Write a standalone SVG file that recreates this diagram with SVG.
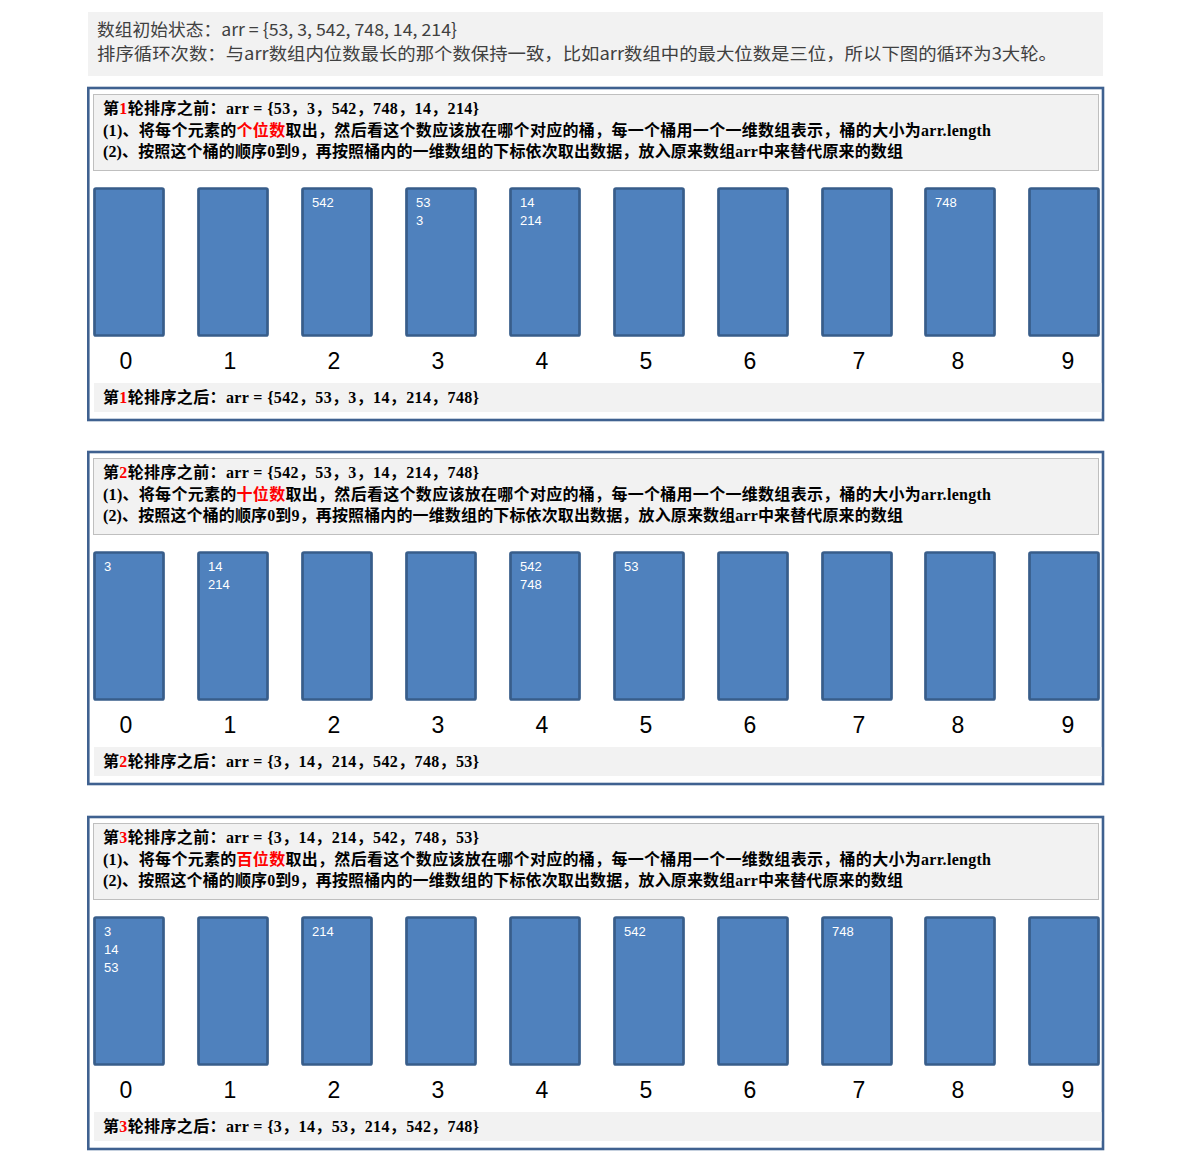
<svg xmlns="http://www.w3.org/2000/svg" width="1200" height="1161" viewBox="0 0 1200 1161">
<style>
.bg{fill:#ffffff}
.intro{fill:#f2f2f2}
.introT{font-family:"Noto Sans CJK SC","Noto Sans",sans-serif;font-size:17px;fill:#404040}
.panel{fill:none;stroke:#3f6190;stroke-width:2.6}
.hdr{fill:#f2f2f2;stroke:#bfbfbf;stroke-width:1}
.band{fill:#f2f2f2}
.ht{font-family:"Liberation Serif","Noto Sans CJK SC",serif;font-size:16px;font-weight:bold;fill:#000000}
.red{fill:#ff0000}
.bk{fill:#4f81bd;stroke:#385d8a;stroke-width:2.7}
.bv{font-family:"Liberation Sans","Noto Sans",sans-serif;font-size:13px;fill:#ffffff}
.lab{font-family:"Liberation Sans","Noto Sans",sans-serif;font-size:23px;fill:#000000;text-anchor:middle}
</style>
<defs>
<rect id="bucket" class="bk" x="0" y="0" width="69" height="147" rx="1.5"/>
</defs>
<rect class="bg" x="0" y="0" width="1200" height="1161"/>

<g id="intro">
<rect class="intro" x="88" y="12" width="1015" height="64"/>
<text class="introT" x="97" y="36" textLength="360" lengthAdjust="spacingAndGlyphs">数组初始状态：arr = {53, 3, 542, 748, 14, 214}</text>
<text class="introT" x="97" y="59.5" textLength="960" lengthAdjust="spacingAndGlyphs">排序循环次数：与arr数组内位数最长的那个数保持一致，比如arr数组中的最大位数是三位，所以下图的循环为3大轮。</text>
</g>

<!-- Round 1 -->
<g id="round1">
<rect class="panel" x="88.3" y="88" width="1014.7" height="332"/>
<g id="round1-header">
<rect class="hdr" x="93.5" y="94.5" width="1005" height="76"/>
<text class="ht" x="103" y="114" textLength="376" lengthAdjust="spacing">第<tspan class="red">1</tspan>轮排序之前：arr = {53，3，542，748，14，214}</text>
<text class="ht" x="103" y="135.5" textLength="888" lengthAdjust="spacing">(1)、将每个元素的<tspan class="red">个位数</tspan>取出，然后看这个数应该放在哪个对应的桶，每一个桶用一个一维数组表示，桶的大小为arr.length</text>
<text class="ht" x="103" y="156.5" textLength="800" lengthAdjust="spacing">(2)、按照这个桶的顺序0到9，再按照桶内的一维数组的下标依次取出数据，放入原来数组arr中来替代原来的数组</text>
</g>
<g id="r1-b0"><use href="#bucket" x="94.5" y="188.5"/><text class="lab" x="126" y="369">0</text></g>
<g id="r1-b1"><use href="#bucket" x="198.5" y="188.5"/><text class="lab" x="230" y="369">1</text></g>
<g id="r1-b2"><use href="#bucket" x="302.5" y="188.5"/><text class="bv" x="312" y="207">542</text><text class="lab" x="334" y="369">2</text></g>
<g id="r1-b3"><use href="#bucket" x="406.5" y="188.5"/><text class="bv" x="416" y="207">53</text><text class="bv" x="416" y="225">3</text><text class="lab" x="438" y="369">3</text></g>
<g id="r1-b4"><use href="#bucket" x="510.5" y="188.5"/><text class="bv" x="520" y="207">14</text><text class="bv" x="520" y="225">214</text><text class="lab" x="542" y="369">4</text></g>
<g id="r1-b5"><use href="#bucket" x="614.5" y="188.5"/><text class="lab" x="646" y="369">5</text></g>
<g id="r1-b6"><use href="#bucket" x="718.5" y="188.5"/><text class="lab" x="750" y="369">6</text></g>
<g id="r1-b7"><use href="#bucket" x="822.5" y="188.5"/><text class="lab" x="859" y="369">7</text></g>
<g id="r1-b8"><use href="#bucket" x="925.5" y="188.5"/><text class="bv" x="935" y="207">748</text><text class="lab" x="958" y="369">8</text></g>
<g id="r1-b9"><use href="#bucket" x="1029.5" y="188.5"/><text class="lab" x="1068" y="369">9</text></g>
<g id="round1-footer">
<rect class="band" x="94" y="383" width="1007.5" height="29"/>
<text class="ht" x="103" y="403" textLength="376" lengthAdjust="spacing">第<tspan class="red">1</tspan>轮排序之后：arr = {542，53，3，14，214，748}</text>
</g>
</g>

<!-- Round 2 -->
<g id="round2" transform="translate(0,364)">
<rect class="panel" x="88.3" y="88" width="1014.7" height="332"/>
<g id="round2-header">
<rect class="hdr" x="93.5" y="94.5" width="1005" height="76"/>
<text class="ht" x="103" y="114" textLength="376" lengthAdjust="spacing">第<tspan class="red">2</tspan>轮排序之前：arr = {542，53，3，14，214，748}</text>
<text class="ht" x="103" y="135.5" textLength="888" lengthAdjust="spacing">(1)、将每个元素的<tspan class="red">十位数</tspan>取出，然后看这个数应该放在哪个对应的桶，每一个桶用一个一维数组表示，桶的大小为arr.length</text>
<text class="ht" x="103" y="156.5" textLength="800" lengthAdjust="spacing">(2)、按照这个桶的顺序0到9，再按照桶内的一维数组的下标依次取出数据，放入原来数组arr中来替代原来的数组</text>
</g>
<g id="r2-b0"><use href="#bucket" x="94.5" y="188.5"/><text class="bv" x="104" y="207">3</text><text class="lab" x="126" y="369">0</text></g>
<g id="r2-b1"><use href="#bucket" x="198.5" y="188.5"/><text class="bv" x="208" y="207">14</text><text class="bv" x="208" y="225">214</text><text class="lab" x="230" y="369">1</text></g>
<g id="r2-b2"><use href="#bucket" x="302.5" y="188.5"/><text class="lab" x="334" y="369">2</text></g>
<g id="r2-b3"><use href="#bucket" x="406.5" y="188.5"/><text class="lab" x="438" y="369">3</text></g>
<g id="r2-b4"><use href="#bucket" x="510.5" y="188.5"/><text class="bv" x="520" y="207">542</text><text class="bv" x="520" y="225">748</text><text class="lab" x="542" y="369">4</text></g>
<g id="r2-b5"><use href="#bucket" x="614.5" y="188.5"/><text class="bv" x="624" y="207">53</text><text class="lab" x="646" y="369">5</text></g>
<g id="r2-b6"><use href="#bucket" x="718.5" y="188.5"/><text class="lab" x="750" y="369">6</text></g>
<g id="r2-b7"><use href="#bucket" x="822.5" y="188.5"/><text class="lab" x="859" y="369">7</text></g>
<g id="r2-b8"><use href="#bucket" x="925.5" y="188.5"/><text class="lab" x="958" y="369">8</text></g>
<g id="r2-b9"><use href="#bucket" x="1029.5" y="188.5"/><text class="lab" x="1068" y="369">9</text></g>
<g id="round2-footer">
<rect class="band" x="94" y="383" width="1007.5" height="29"/>
<text class="ht" x="103" y="403" textLength="376" lengthAdjust="spacing">第<tspan class="red">2</tspan>轮排序之后：arr = {3，14，214，542，748，53}</text>
</g>
</g>

<!-- Round 3 -->
<g id="round3" transform="translate(0,729)">
<rect class="panel" x="88.3" y="88" width="1014.7" height="332"/>
<g id="round3-header">
<rect class="hdr" x="93.5" y="94.5" width="1005" height="76"/>
<text class="ht" x="103" y="114" textLength="376" lengthAdjust="spacing">第<tspan class="red">3</tspan>轮排序之前：arr = {3，14，214，542，748，53}</text>
<text class="ht" x="103" y="135.5" textLength="888" lengthAdjust="spacing">(1)、将每个元素的<tspan class="red">百位数</tspan>取出，然后看这个数应该放在哪个对应的桶，每一个桶用一个一维数组表示，桶的大小为arr.length</text>
<text class="ht" x="103" y="156.5" textLength="800" lengthAdjust="spacing">(2)、按照这个桶的顺序0到9，再按照桶内的一维数组的下标依次取出数据，放入原来数组arr中来替代原来的数组</text>
</g>
<g id="r3-b0"><use href="#bucket" x="94.5" y="188.5"/><text class="bv" x="104" y="207">3</text><text class="bv" x="104" y="225">14</text><text class="bv" x="104" y="243">53</text><text class="lab" x="126" y="369">0</text></g>
<g id="r3-b1"><use href="#bucket" x="198.5" y="188.5"/><text class="lab" x="230" y="369">1</text></g>
<g id="r3-b2"><use href="#bucket" x="302.5" y="188.5"/><text class="bv" x="312" y="207">214</text><text class="lab" x="334" y="369">2</text></g>
<g id="r3-b3"><use href="#bucket" x="406.5" y="188.5"/><text class="lab" x="438" y="369">3</text></g>
<g id="r3-b4"><use href="#bucket" x="510.5" y="188.5"/><text class="lab" x="542" y="369">4</text></g>
<g id="r3-b5"><use href="#bucket" x="614.5" y="188.5"/><text class="bv" x="624" y="207">542</text><text class="lab" x="646" y="369">5</text></g>
<g id="r3-b6"><use href="#bucket" x="718.5" y="188.5"/><text class="lab" x="750" y="369">6</text></g>
<g id="r3-b7"><use href="#bucket" x="822.5" y="188.5"/><text class="bv" x="832" y="207">748</text><text class="lab" x="859" y="369">7</text></g>
<g id="r3-b8"><use href="#bucket" x="925.5" y="188.5"/><text class="lab" x="958" y="369">8</text></g>
<g id="r3-b9"><use href="#bucket" x="1029.5" y="188.5"/><text class="lab" x="1068" y="369">9</text></g>
<g id="round3-footer">
<rect class="band" x="94" y="383" width="1007.5" height="29"/>
<text class="ht" x="103" y="403" textLength="376" lengthAdjust="spacing">第<tspan class="red">3</tspan>轮排序之后：arr = {3，14，53，214，542，748}</text>
</g>
</g>

<g id="connectors"/>
</svg>
